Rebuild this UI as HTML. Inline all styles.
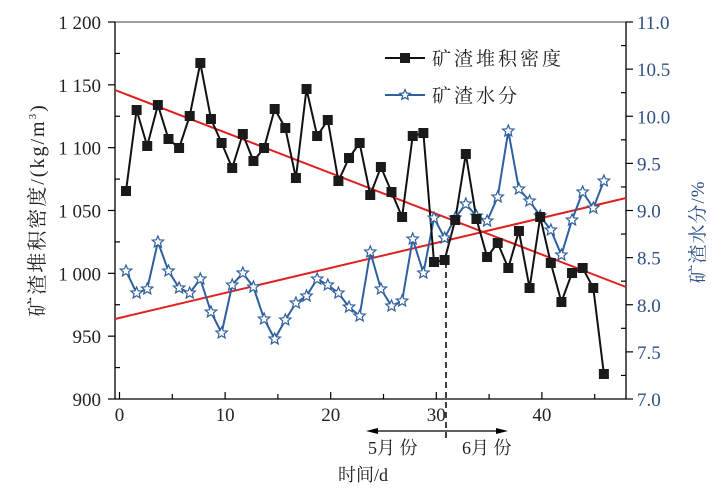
<!DOCTYPE html>
<html><head><meta charset="utf-8"><style>
html,body{margin:0;padding:0;background:#fff;}
svg{display:block;font-family:"Liberation Serif","Noto Serif CJK SC",serif;}
</style></head><body>
<svg id="s" width="728" height="501" viewBox="0 0 728 501" xmlns="http://www.w3.org/2000/svg">
<rect width="728" height="501" fill="#fff"/>
<g id="g"></g>
</svg>
<script>
var g=document.getElementById('g'),h='';
var L=115,R=626,T=22,B=399;
h+='<line x1="'+L+'" y1="'+T+'" x2="'+R+'" y2="'+T+'" stroke="#666" stroke-width="1.3"/>';
h+='<line x1="'+L+'" y1="'+T+'" x2="'+L+'" y2="'+B+'" stroke="#000" stroke-width="1.3"/>';
h+='<line x1="'+R+'" y1="'+T+'" x2="'+R+'" y2="'+B+'" stroke="#000" stroke-width="1.3"/>';
h+='<line x1="'+L+'" y1="'+B+'" x2="'+R+'" y2="'+B+'" stroke="#000" stroke-width="1.3"/>';
for(var i=0;i<=12;i++){var y=B-(B-T)*i/12;
 if(i%2==0){h+='<line x1="'+(L-7)+'" y1="'+y+'" x2="'+L+'" y2="'+y+'" stroke="#000" stroke-width="1.2"/>';
  var v=900+25*i, s=v>=1000?(Math.floor(v/1000)+' '+String(v%1000).padStart(3,'0')):String(v);
  h+='<text x="101" y="'+(y+7)+'" font-size="19" text-anchor="end" fill="#222">'+s+'</text>';}
 else h+='<line x1="'+L+'" y1="'+y+'" x2="'+(L+5)+'" y2="'+y+'" stroke="#000" stroke-width="1.2"/>';}
for(var i=0;i<=16;i++){var y=B-(B-T)*i/16;
 if(i%2==0){h+='<line x1="'+R+'" y1="'+y+'" x2="'+(R+7)+'" y2="'+y+'" stroke="#000" stroke-width="1.2"/>';
  h+='<text x="637" y="'+(y+7)+'" font-size="19" fill="#2d4f85">'+(7+i*0.25).toFixed(1)+'</text>';}
 else h+='<line x1="'+(R-5)+'" y1="'+y+'" x2="'+R+'" y2="'+y+'" stroke="#000" stroke-width="1.2"/>';}
var x0=115.5,dx=10.56;
for(var d=0;d<=45;d+=5){var x=x0+d*dx+4;
 h+='<line x1="'+x+'" y1="'+(B-(d%10==0?7:5))+'" x2="'+x+'" y2="'+B+'" stroke="#000" stroke-width="1.2"/>';
 if(d%10==0)h+='<text x="'+x+'" y="421" font-size="19" text-anchor="middle" fill="#222">'+d+'</text>';}
h+='<line x1="'+L+'" y1="90" x2="'+R+'" y2="287" stroke="#e02020" stroke-width="2"/>';
h+='<line x1="'+L+'" y1="319" x2="'+R+'" y2="198" stroke="#e02020" stroke-width="2"/>';
h+='<line x1="446" y1="262" x2="446" y2="438" stroke="#000" stroke-width="1.5" stroke-dasharray="6,4"/>';
var bk=[191,110,146,105,139,148,116,63,119,143,168,134,161,148,109,128,178,89,136,120,181,158,143,195,167,192,217,136,133,262,260,220,154,219,257,243,268,231,288,217,263,302,273,268,288,374];
var bl=[271,293,289,242,271,288,293,279,312,333,285,273,287,319,339,320,303,296,279,285,293,307,316,252,289,306,301,239,273,218,238,218,204,216,221,197,131,189,201,216,230,255,220,192,208,181];
function X(i){return 126+i*10.62;}
var pb='',pl='';
for(var i=0;i<46;i++){pb+=(i?'L':'M')+X(i).toFixed(1)+' '+bk[i];pl+=(i?'L':'M')+X(i).toFixed(1)+' '+bl[i];}
h+='<path d="'+pl+'" fill="none" stroke="#2e5f9e" stroke-width="2"/>';
h+='<path d="'+pb+'" fill="none" stroke="#111" stroke-width="2"/>';
function star(cx,cy,r){var p='';for(var k=0;k<10;k++){var a=-Math.PI/2+k*Math.PI/5,rr=k%2?r*0.45:r;p+=(cx+rr*Math.cos(a)).toFixed(1)+','+(cy+rr*Math.sin(a)).toFixed(1)+' ';}return '<polygon points="'+p+'" fill="#fff" stroke="#2e5f9e" stroke-width="1.2"/>';}
for(var i=0;i<46;i++){h+=star(X(i),bl[i],6);h+='<rect x="'+(X(i)-5)+'" y="'+(bk[i]-5)+'" width="10" height="10" fill="#1a1a1a"/>';}
h+='<line x1="385" y1="58" x2="425" y2="58" stroke="#111" stroke-width="2"/><rect x="400" y="53" width="10" height="10" fill="#1a1a1a"/>';
h+='<text x="432" y="65" font-size="19" letter-spacing="3" fill="#222">矿渣堆积密度</text>';
h+='<line x1="385" y1="95" x2="425" y2="95" stroke="#2e5f9e" stroke-width="2"/>'+star(405,95,5.5);
h+='<text x="432" y="102" font-size="19" letter-spacing="3" fill="#222">矿渣水分</text>';
h+='<line x1="372" y1="431" x2="502" y2="431" stroke="#000" stroke-width="1.3"/>';
h+='<polygon points="366,431 378,428 378,434" fill="#000"/><polygon points="508,431 496,428 496,434" fill="#000"/>';
h+='<text x="368" y="454" font-size="18" fill="#222">5月 份</text><text x="462" y="454" font-size="18" fill="#222">6月 份</text>';
h+='<text x="338" y="481" font-size="18" fill="#222">时间/d</text>';
h+='<text transform="translate(44,210) rotate(-90)" font-size="20" letter-spacing="2" text-anchor="middle" fill="#222">矿渣堆积密度/(kg/m<tspan font-size="11" dy="-8">3</tspan><tspan dy="8">)</tspan></text>';
h+='<text transform="translate(704,232) rotate(-90)" font-size="19" letter-spacing="1" text-anchor="middle" fill="#2d4f85">矿渣水分/%</text>';
g.innerHTML=h;
</script>
</body></html>
